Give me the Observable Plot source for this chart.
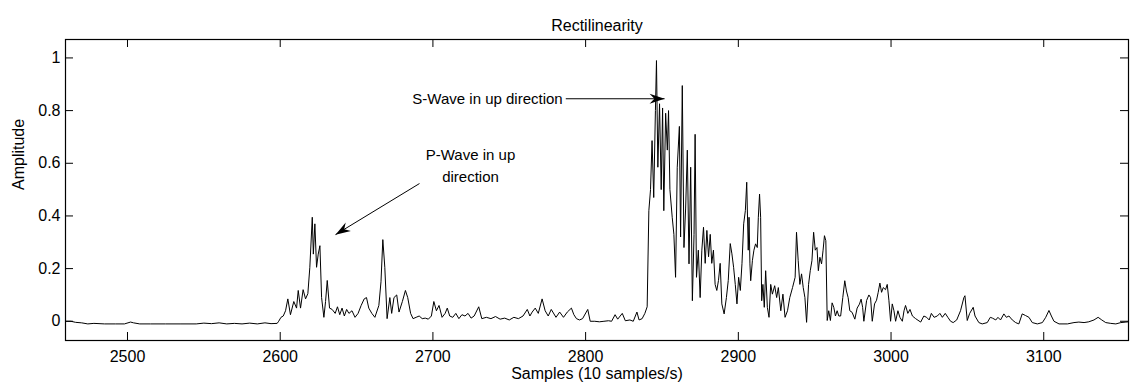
<!DOCTYPE html>
<html><head><meta charset="utf-8">
<script src="https://cdn.jsdelivr.net/npm/d3@7"></script>
<script src="https://cdn.jsdelivr.net/npm/@observablehq/plot@0.6"></script>
<style>body{margin:0;background:#fff} #chart svg{display:block}</style>
</head><body><div id="chart"></div>
<script>
// ---- data ----
const samples = [
  2460,2463,2466,2470,2474,2478,2485,2492,2498,2502,2504,2508,2515,2525,2535,2545,2550,2555,2560,2565,2570,2575,2580,2585,2590,2594,2598,
  2599,2600.5,2602,2603.5,2605,2606.7,2608.9,2610.7,2611.8,2613.3,2615,2616.6,2618.1,2619.4,2621,2621.7,2622.7,2623.8,2624.9,2626,
  2627.1,2628.6,2629.7,2630.8,2632.3,2634,2636,2637.5,2639,2640.5,2642,2643.5,2645,2647,2649,2651,2653,2655,2656.5,2658,
  2660,2662,2664.6,2666,2667.2,2668.5,2670,2671.8,2673,2674.5,2676.3,2677.8,2680,2682,2683.5,2685.4,2687,2689,2691,2693,
  2695,2697,2699,2700.6,2702.3,2704,2706,2708,2709.4,2711,2713,2715,2717,2719,2721,2723,2725,2727,2730,2732,
  2735,2738,2741,2744,2747,2750,2753,2756,2759,2761.8,2763.5,2765,2767,2769,2771.5,2773.5,2775.5,2777.5,2780.6,2783,
  2785.5,2788,2790.7,2792.3,2794,2796,2798,2801.4,2803,2806,2809,2812,2815,2817,2819.3,2821,2824,2826,2829,2831.2,
  2833.6,2835,2837,2838.8,2840.3,2841.4,2842.5,2843.5,2844.6,2845.7,2846.4,2847.3,2848.4,2849.5,2850.4,2851.2,2852.4,2853.5,2854.3,2855.2,
  2856.7,2857.8,2858.9,2860,2861.4,2862.2,2863.3,2864.4,2865.5,2866.6,2867.7,2868.8,2869.9,2871,2871.7,2872.6,2873.8,2875,2876.1,2877.2,
  2878.3,2879.4,2880.5,2881.6,2882.6,2883.7,2884.8,2885.9,2887,2888.1,2889.2,2890.7,2892.2,2893.4,2894.7,2895.8,2896.9,2898,2899.1,2900.2,
  2901.3,2902.4,2903.5,2904.6,2905.5,2906.5,2907,2907.6,2908.1,2909.2,2910.2,2911.3,2912.4,2913.1,2913.9,2914.6,2915.3,2916.1,2917,2917.9,
  2919,2920.1,2921.2,2922.3,2923.8,2925.1,2926.2,2927.8,2929.2,2930.6,2932.2,2933.7,2935.5,2937.2,2938.1,2939.2,2940.3,2941.4,2942.5,2943.6,
  2944.7,2946,2947.1,2948.2,2949.3,2950.4,2951.5,2952.4,2953.4,2954.5,2955.5,2956.4,2957.3,2958.2,2959.2,2960.3,2961.4,2962.5,2963.6,2964.7,
  2965.8,2967,2968.4,2969.7,2970.8,2971.9,2973,2974.5,2976.3,2977.8,2979.3,2980.4,2981.4,2982.2,2984,2985.5,2986.6,2987.7,2989.2,2990.5,
  2991.6,2992.7,2993.8,2994.9,2996.4,2997.5,2998.6,2999.7,3000.8,3001.9,3003,3004.5,3005.8,3007.4,3008.5,3009.5,3011,3012.4,3014,3016.1,
  3019.4,3021.5,3023.3,3025,3026.4,3028.2,3030.3,3032,3033.6,3035.5,3037.2,3039,3040.7,3043,3045.5,3047.7,3048.4,3049.9,3051.5,3053.8,
  3055,3057.5,3059.7,3063,3065,3066.4,3068.6,3070,3071.7,3073.9,3075.5,3077.2,3079.4,3081.6,3083.7,3085.9,3088,3090.3,3092.5,3095.8,
  3099.1,3101.3,3103.4,3105,3106.7,3110,3115.5,3119.8,3123,3126.4,3129.5,3132.9,3135.6,3138,3140.6,3143.9,3147.2,3150.5,3153.8,3155.5
];
const amplitude = [
  0,0,-0.004,-0.006,-0.01,-0.008,-0.01,-0.01,-0.01,-0.003,-0.006,-0.01,-0.01,-0.01,-0.01,-0.01,-0.007,-0.009,-0.006,-0.01,-0.008,-0.01,-0.007,-0.01,-0.006,-0.009,-0.008,
  0,0.015,0.02,0.04,0.085,0.025,0.075,0.05,0.117,0.05,0.12,0.085,0.105,0.205,0.395,0.255,0.37,0.205,0.255,0.287,
  0.09,0.015,0.075,0.155,0.05,0.045,0.03,0.055,0.025,0.05,0.02,0.045,0.03,0.04,0.015,0.03,0.06,0.085,0.09,0.05,
  0.03,0.015,0.06,0.15,0.31,0.205,0.01,0.09,0.03,0.09,0.1,0.035,0.075,0.117,0.09,0.03,0.01,0.015,0.02,0.01,
  0.012,0.008,0.02,0.075,0.04,0.06,0.015,0.03,0.05,0.02,0.015,0.03,0.01,0.025,0.02,0.03,0.012,0.02,0.055,0.01,
  0.015,0.01,0.018,0.008,0.012,0.005,0.015,0.01,0.02,0.045,0.02,0.035,0.05,0.03,0.085,0.04,0.02,0.045,0.015,0.035,
  0.015,0.035,0.05,0.025,0.01,0.005,0.01,0.045,0,0,-0.002,0,0.002,0,0.025,0.008,0.03,0.002,0.005,0,
  0.035,0.005,0.01,0.03,0.055,0.42,0.5,0.686,0.47,0.8,0.99,0.585,0.826,0.5,0.81,0.42,0.79,0.65,0.8,0.5,
  0.395,0.33,0.167,0.585,0.74,0.32,0.895,0.28,0.43,0.65,0.218,0.585,0.078,0.33,0.71,0.167,0.27,0.09,0.27,0.357,
  0.22,0.345,0.245,0.33,0.22,0.27,0.14,0.117,0.155,0.22,0.066,0.028,0.09,0.155,0.295,0.256,0.205,0.14,0.066,0.167,
  0.117,0.22,0.37,0.42,0.528,0.27,0.395,0.218,0.154,0.23,0.27,0.294,0.28,0.395,0.483,0.395,0.078,0.14,0.053,0.192,
  0.053,0.015,0.14,0.103,0.135,0.09,0.128,0.04,0.103,0.015,0.04,0.09,0.128,0.167,0.338,0.23,0.14,0.18,0.128,0.09,
  -0.004,0.14,0.192,0.23,0.338,0.27,0.28,0.192,0.243,0.218,0.27,0.325,0.306,0.003,0.04,0.003,0.07,0.053,0.02,0.04,
  0.02,0.02,0.09,0.154,0.115,0.09,0.04,0.034,0.008,0.05,0.065,0.084,0.053,0,0.079,0.1,0.09,0,0.066,0.08,
  0.11,0.145,0.11,0.128,0.12,0.14,0.08,0,0.066,0.04,0,0.04,0.015,0,0.04,0.06,0.03,0.045,0.02,0.01,
  -0.003,0.02,0.015,0.005,0.03,0.015,0.02,0.03,0.015,0.03,0.015,0,-0.005,0.005,0.04,0.09,0.097,0.003,0.03,0.053,
  0.02,-0.005,-0.01,-0.005,0.015,0.012,0.005,0.015,0.005,0.028,0.015,0.02,0.005,-0.005,-0.01,0.028,0.022,0.015,-0.005,-0.01,
  -0.005,0.015,0.041,0.02,0,-0.01,-0.01,-0.005,-0.003,-0.005,-0.002,0.005,0.015,0.005,-0.005,-0.008,-0.01,-0.005,-0.003,-0.002
];
const xTicks = [2500, 2600, 2700, 2800, 2900, 3000, 3100];
const yTicks = [0, 0.2, 0.4, 0.6, 0.8, 1];
const xDomain = [2459.4, 3155.5];
const yDomain = [-0.073, 1.07];
const titleText = "Rectilinearity";
const xLabel = "Samples (10 samples/s)";
const yLabel = "Amplitude";
// annotations (data coordinates)
const sNote = {text: "S-Wave in up direction", x: 2785, y: 0.845};
const sArrow = {x1: 2787, y1: 0.845, x2: 2851.7, y2: 0.845};
const pNote = {text: "P-Wave in up\ndirection", x: 2724.6, y: 0.598};
const pArrow = {x1: 2691.2, y1: 0.523, x2: 2636.2, y2: 0.329};

// ---- drawing ----
const W = 1130, H = 390;
const mL = 65, mR = 2, mT = 39, mB = 50;
const fw = W - mL - mR, fh = H - mT - mB;
const tick = 8;
const series = samples.map((s, i) => ({s, a: amplitude[i]}));

function dart(angleDeg) {
  const t = angleDeg * Math.PI / 180, c = Math.cos(t), sn = Math.sin(t);
  const L = 15, w = 5;
  const pts = [[0, 0], [-L, -w], [-0.68 * L, 0], [-L, w]].map(([px, py]) => [px * c - py * sn, px * sn + py * c]);
  return {draw(ctx) { ctx.moveTo(...pts[0]); for (let i = 1; i < pts.length; i++) ctx.lineTo(...pts[i]); ctx.closePath(); }};
}

const fmt = d => String(+d.toFixed(1));

const chart = Plot.plot({
  width: W, height: H,
  marginLeft: mL, marginRight: mR, marginTop: mT, marginBottom: mB,
  style: {fontFamily: "'Liberation Sans', Arial, Helvetica, sans-serif", fontSize: "16px", color: "black", background: "white"},
  x: {domain: xDomain, ticks: xTicks, tickFormat: d => String(d), label: null},
  y: {domain: yDomain, ticks: yTicks, tickFormat: fmt, label: null},
  marks: [
    Plot.axisX(xTicks, {tickSize: 0, tickPadding: 10, fontSize: 16, tickFormat: d => String(d)}),
    Plot.axisY(yTicks, {tickSize: 0, tickPadding: 5, fontSize: 16, tickFormat: fmt}),
    Plot.ruleX(xTicks, {insetTop: fh - tick, stroke: "black"}),
    Plot.ruleX(xTicks, {insetBottom: fh - tick, stroke: "black"}),
    Plot.ruleY(yTicks, {insetRight: fw - tick, stroke: "black"}),
    Plot.ruleY(yTicks, {insetLeft: fw - tick, stroke: "black"}),
    Plot.frame({stroke: "black", strokeWidth: 1.2}),
    Plot.line(series, {x: "s", y: "a", stroke: "#000", strokeWidth: 1}),
    Plot.link([sArrow], {x1: "x1", y1: "y1", x2: "x2", y2: "y2", stroke: "black", strokeWidth: 1}),
    Plot.link([pArrow], {x1: "x1", y1: "y1", x2: "x2", y2: "y2", stroke: "black", strokeWidth: 1}),
    Plot.dot([sArrow], {x: "x2", y: "y2", symbol: dart(0), r: 7, fill: "black", stroke: "none"}),
    Plot.dot([pArrow], {x: "x2", y: "y2", symbol: dart(148.7), r: 7, fill: "black", stroke: "none"}),
    Plot.text([sNote], {x: "x", y: "y", text: "text", textAnchor: "end", fontSize: 15}),
    Plot.text([pNote], {x: "x", y: "y", text: "text", fontSize: 15, lineHeight: 1.45}),
    Plot.text([titleText], {frameAnchor: "top", dy: -20, fontSize: 16}),
    Plot.text([xLabel], {frameAnchor: "bottom", dy: 38, fontSize: 16}),
    Plot.text([yLabel], {frameAnchor: "left", dx: -47, rotate: -90, fontSize: 16})
  ]
});
document.getElementById("chart").appendChild(chart);
</script>
</body></html>
